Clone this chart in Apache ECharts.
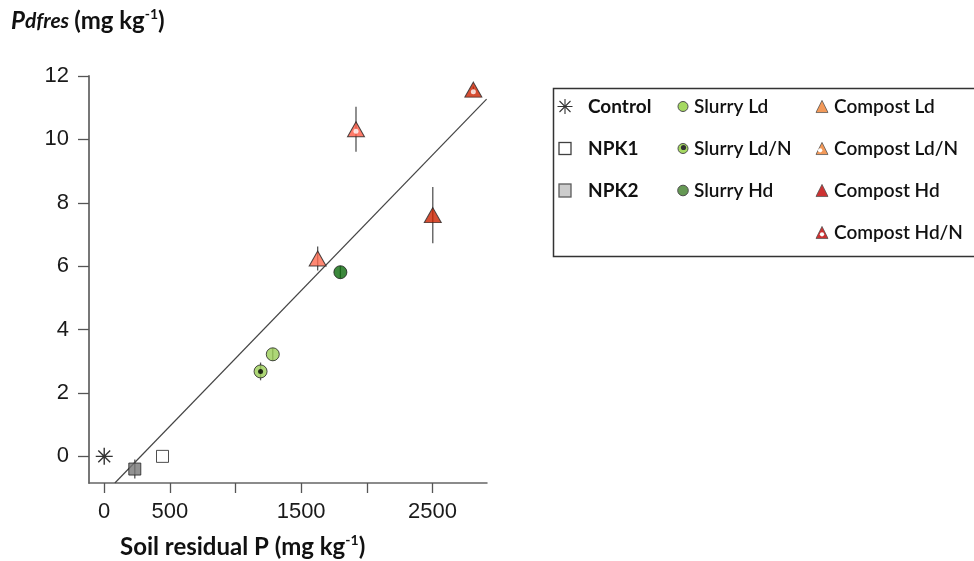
<!DOCTYPE html>
<html>
<head>
<meta charset="utf-8">
<script src="https://cdn.jsdelivr.net/npm/echarts@6/dist/echarts.min.js"></script>
<style>
  html, body { margin: 0; padding: 0; background: #fff; }
  #chart { width: 974px; height: 561px; }
</style>
</head>
<body>
<div id="chart"></div>
<script>
// treatments, soil residual P (x) and Pdfres (y) with error bars
const treatments = ['Control', 'NPK1', 'NPK2', 'Slurry Ld', 'Slurry Ld/N', 'Slurry Hd',
  'Compost Ld', 'Compost Ld/N', 'Compost Hd', 'Compost Hd/N'];
const soilP = [0, 444, 233, 1284, 1191, 1799, 1626, 1918, 2503, 2812];
const pdfres = [0, 0, -0.4, 3.22, 2.68, 5.81, 6.24, 10.32, 7.61, 11.57];
const pdfresErr = [0, 0, 0.3, 0.2, 0.28, 0.2, 0.38, 0.71, 0.89, 0.1];

// fitted line, ends
const fitX = [81, 2913];
const fitY = [-0.84, 11.27];

const xTicks = [0, 500, 1000, 1500, 2000, 2500];
const xLabels = [0, 500, 1500, 2500];
const yTicks = [0, 2, 4, 6, 8, 10, 12];

const legendCols = [
  ['Control', 'NPK1', 'NPK2'],
  ['Slurry Ld', 'Slurry Ld/N', 'Slurry Hd'],
  ['Compost Ld', 'Compost Ld/N', 'Compost Hd', 'Compost Hd/N']
];

const markStyle = {
  'Control':      { symbol: 'path://M0,-10L0,10M-10,0L10,0M-7,-7L7,7M-7,7L7,-7', size: 17, color: 'none', border: '#000' },
  'NPK1':         { symbol: 'rect', size: 12, color: '#fff', border: '#222' },
  'NPK2':         { symbol: 'rect', size: 12, color: '#777', border: '#222' },
  'Slurry Ld':    { symbol: 'circle', size: 13, color: '#9acd55', border: '#222' },
  'Slurry Ld/N':  { symbol: 'circle', size: 13, color: '#9acd55', border: '#222', dot: '#000' },
  'Slurry Hd':    { symbol: 'circle', size: 13, color: '#0b6a0b', border: '#222' },
  'Compost Ld':   { symbol: 'triangle', size: [17, 15], color: '#ff6a50', border: '#222' },
  'Compost Ld/N': { symbol: 'triangle', size: [17, 15], color: '#ff5a45', border: '#222', dot: '#fff' },
  'Compost Hd':   { symbol: 'triangle', size: [17, 15], color: '#cc2200', border: '#222' },
  'Compost Hd/N': { symbol: 'triangle', size: [17, 15], color: '#cc2200', border: '#222', dot: '#fff' }
};

// legend swatches drawn as small svg pictures
function svgIcon(body, w, h) {
  let svg = "<svg xmlns='http://www.w3.org/2000/svg' width='" + w + "' height='" + h + "'>" + body + "</svg>";
  return 'image://data:image/svg+xml;charset=utf-8,' + encodeURIComponent(svg);
}
const legendIcons = {
  'Control': svgIcon("<g stroke='#000' stroke-width='1.1'><line x1='8' y1='0.5' x2='8' y2='15.5'/><line x1='0.5' y1='8' x2='15.5' y2='8'/><line x1='2.5' y1='2.5' x2='13.5' y2='13.5'/><line x1='2.5' y1='13.5' x2='13.5' y2='2.5'/></g>", 16, 16),
  'NPK1': svgIcon("<rect x='2' y='2' width='12' height='12' fill='#fff' stroke='#111' stroke-width='1.3'/>", 16, 16),
  'NPK2': svgIcon("<rect x='2' y='1.5' width='12' height='13' fill='#c0c0c0' stroke='#333' stroke-width='1.3'/>", 16, 16),
  'Slurry Ld': svgIcon("<circle cx='6' cy='7' r='5' fill='#8fd03a' stroke='#222' stroke-width='1'/>", 12, 14),
  'Slurry Ld/N': svgIcon("<circle cx='6' cy='7' r='5' fill='#8fd03a' stroke='#222' stroke-width='1'/><circle cx='6.5' cy='6' r='2.6' fill='#000'/>", 12, 14),
  'Slurry Hd': svgIcon("<circle cx='6' cy='7' r='5.3' fill='#3f7f2a' stroke='#222' stroke-width='1'/>", 12, 14),
  'Compost Ld': svgIcon("<polygon points='7,1 13.5,14 0.5,14' fill='#f08030' stroke='#222' stroke-width='0.8'/>", 14, 15),
  'Compost Ld/N': svgIcon("<polygon points='7,1 13.5,14 0.5,14' fill='#f08030' stroke='#222' stroke-width='0.8'/><circle cx='5' cy='9.5' r='2.3' fill='#fff'/>", 14, 15),
  'Compost Hd': svgIcon("<polygon points='7,1 13.5,14 0.5,14' fill='#c00000' stroke='#222' stroke-width='0.8'/>", 14, 15),
  'Compost Hd/N': svgIcon("<polygon points='7,1 13.5,14 0.5,14' fill='#c00000' stroke='#222' stroke-width='0.8'/><circle cx='7' cy='9.5' r='2.3' fill='#fff'/>", 14, 15)
};

const chart = echarts.init(document.getElementById('chart'));

let series = [];
treatments.forEach((name, i) => {
  let st = markStyle[name];
  series.push({
    name: name,
    type: 'scatter',
    z: 4,
    symbol: st.symbol,
    symbolSize: st.size,
    itemStyle: { color: st.color, borderColor: st.border, borderWidth: name == 'Control' ? 1.4 : 1 },
    data: [[soilP[i], pdfres[i]]]
  });
  if (st.dot) {
    series.push({
      type: 'scatter',
      silent: true,
      z: 5,
      symbol: 'circle',
      symbolSize: 5,
      symbolOffset: st.symbol == 'triangle' ? [0, 2] : [0, 0],
      itemStyle: { color: st.dot },
      data: [[soilP[i], pdfres[i]]]
    });
  }
});

series.push({
  type: 'custom',
  z: 3,
  silent: true,
  data: treatments.map((n, i) => [soilP[i], pdfres[i], pdfresErr[i]]),
  encode: { x: 0, y: 1 },
  renderItem: function (params, api) {
    let err = api.value(2);
    if (!err) return null;
    let top = api.coord([api.value(0), api.value(1) + err]);
    let bot = api.coord([api.value(0), api.value(1) - err]);
    return {
      type: 'line',
      shape: { x1: top[0], y1: top[1], x2: bot[0], y2: bot[1] },
      style: { stroke: '#555', lineWidth: 1.3 }
    };
  }
});

series.push({
  type: 'line',
  z: 2,
  silent: true,
  symbol: 'none',
  lineStyle: { color: '#444', width: 1.2 },
  data: fitX.map((x, i) => [x, fitY[i]])
});

const legendX = [557, 677, 815];
const legendW = [16, 12, 14];
const legends = legendCols.map((col, c) => ({
  orient: 'vertical',
  left: legendX[c],
  top: 97,
  padding: 0,
  itemWidth: legendW[c],
  itemHeight: c == 0 ? 16 : 14,
  itemGap: 23,
  selectedMode: false,
  data: col.map(n => ({ name: n, icon: legendIcons[n] })),
  textStyle: {
    fontFamily: 'Lato',
    fontSize: 19,
    fontWeight: c == 0 ? 'bold' : 600,
    color: '#111',
    lineHeight: 14,
    padding: c == 0 ? [0, 0, 0, 10] : 0
  }
}));

const titleRich = {
  i: { fontFamily: 'Lato', fontStyle: 'italic', fontWeight: 'bold', fontSize: 24, color: '#111', lineHeight: 28 },
  si: { fontFamily: 'Lato', fontStyle: 'italic', fontWeight: 'bold', fontSize: 21, color: '#111', lineHeight: 28 },
  b: { fontFamily: 'Lato', fontWeight: 'bold', fontSize: 24, color: '#111', lineHeight: 28 },
  sup: { fontFamily: 'Lato', fontWeight: 'bold', fontSize: 14, color: '#111', lineHeight: 16, verticalAlign: 'top' }
};

chart.setOption({
  animation: false,
  backgroundColor: '#fff',
  title: [
    {
      text: '{i|P}{si|dfres} {b|(mg kg}{sup|-1}{b|)}',
      left: 11, top: 7, padding: 0,
      textStyle: { rich: titleRich }
    },
    {
      text: '{b|Soil residual P (mg kg}{sup|-1}{b|)}',
      left: 120, top: 533, padding: 0,
      textStyle: { rich: titleRich }
    }
  ],
  legend: legends,
  grid: { left: 89, top: 76, right: 487, bottom: 78, containLabel: false },
  xAxis: {
    type: 'value',
    min: -116,
    max: 2916,
    splitLine: { show: false },
    axisLine: { onZero: false, lineStyle: { color: '#666', width: 1.5 } },
    axisTick: { show: true, length: 10, customValues: xTicks, lineStyle: { color: '#555', width: 1.3 } },
    axisLabel: {
      customValues: xLabels, margin: 18, fontFamily: 'Liberation Sans', fontSize: 22, color: '#1a1a1a',
      formatter: v => String(v)
    }
  },
  yAxis: {
    type: 'value',
    min: -0.84,
    max: 12,
    splitLine: { show: false },
    axisLine: { show: true, onZero: false, lineStyle: { color: '#777', width: 2 } },
    axisTick: { show: true, length: 11, customValues: yTicks, lineStyle: { color: '#555', width: 1.3 } },
    axisLabel: { customValues: yTicks, margin: 20, fontFamily: 'Liberation Sans', fontSize: 22, color: '#1a1a1a' }
  },
  graphic: [{
    type: 'rect',
    shape: { x: 553.5, y: 88.5, width: 440, height: 168 },
    style: { fill: 'none', stroke: '#333', lineWidth: 1.5 },
    silent: true
  }],
  series: series
});

window.addEventListener('resize', () => {
  chart.resize();
});
</script>
</body>
</html>
